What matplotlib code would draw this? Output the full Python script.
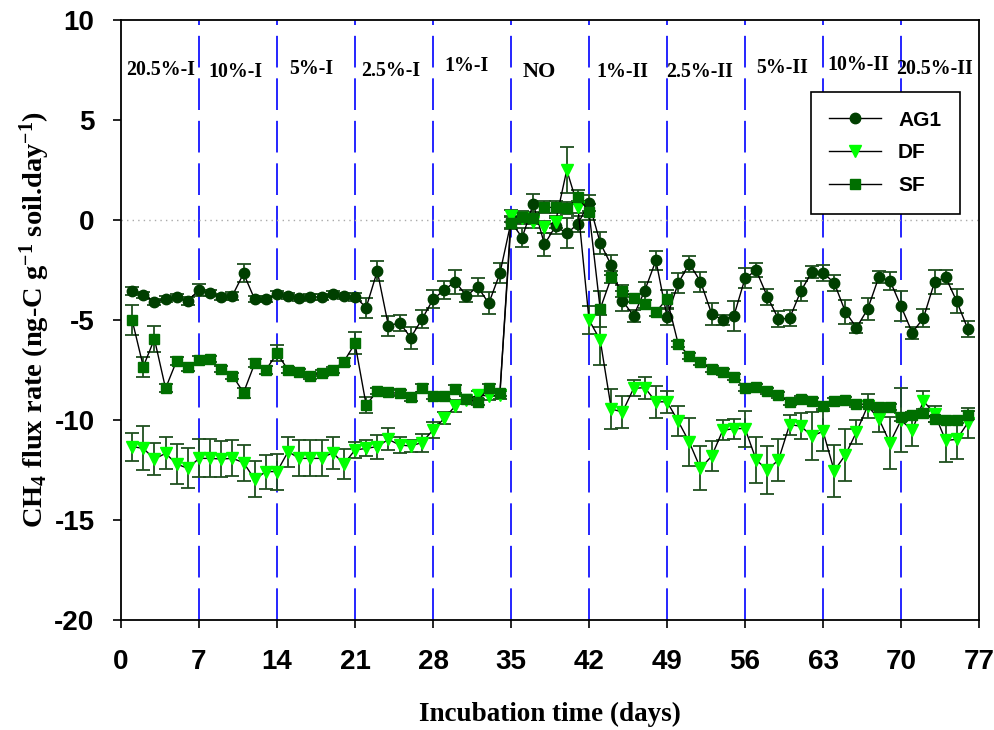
import numpy as np
import matplotlib
matplotlib.use("Agg")
import matplotlib.pyplot as plt

plt.rcParams['axes.unicode_minus'] = False
plt.rcParams['mathtext.fontset'] = 'custom'
plt.rcParams['mathtext.rm'] = 'Liberation Serif:bold'
plt.rcParams['mathtext.it'] = 'Liberation Serif:bold'
plt.rcParams['mathtext.bf'] = 'Liberation Serif:bold'

# incubation days (one sample per day)
days = np.arange(1, 77)

ag1 = [-3.55, -3.75, -4.08, -3.95, -3.83, -4.03, -3.50, -3.67, -3.83, -3.78,
       -2.67, -3.97, -3.97, -3.72, -3.78, -3.88, -3.87, -3.83, -3.72, -3.78,
       -3.83, -4.38, -2.55, -5.30, -5.13, -5.88, -4.97, -3.97, -3.50, -3.08,
       -3.80, -3.33, -4.17, -2.67, -0.10, -0.88, 0.80, -1.22, -0.30, -0.67,
       -0.20, 0.87, -1.14, -2.27, -4.04, -4.79, -3.53, -2.02, -4.84, -3.16,
       -2.18, -3.08, -4.68, -5.01, -4.79, -2.91, -2.52, -3.83, -4.96, -4.91,
       -3.56, -2.60, -2.64, -3.14, -4.59, -5.38, -4.46, -2.86, -3.03, -4.32,
       -5.63, -4.91, -3.11, -2.86, -4.07, -5.47]
ag1_err = [0.20, 0.15, 0.15, 0.15, 0.15, 0.20, 0.30, 0.15, 0.15, 0.20,
           0.45, 0.15, 0.15, 0.15, 0.15, 0.15, 0.15, 0.15, 0.15, 0.15,
           0.20, 0.50, 0.50, 0.50, 0.40, 0.55, 0.45, 0.45, 0.45, 0.60,
           0.30, 0.45, 0.55, 0.50, 0.30, 0.47, 0.50, 0.58, 0.40, 0.75,
           0.40, 0.40, 0.55, 0.50, 0.50, 0.30, 0.45, 0.47, 0.40, 0.50,
           0.40, 0.50, 0.55, 0.25, 0.75, 0.50, 0.35, 0.40, 0.40, 0.40,
           0.50, 0.30, 0.40, 0.40, 0.60, 0.25, 0.55, 0.30, 0.45, 0.75,
           0.30, 0.45, 0.60, 0.35, 0.60, 0.40]

df = [-11.33, -11.42, -11.95, -11.67, -12.20, -12.42, -11.92, -11.92, -11.95, -11.92,
      -12.13, -12.97, -12.58, -12.58, -11.58, -11.92, -11.92, -11.92, -11.63, -12.20,
      -11.50, -11.42, -11.33, -10.97, -11.25, -11.30, -11.13, -10.50, -9.92, -9.30,
      -9.00, -8.75, -8.80, -8.75, 0.20, 0.10, -0.08, -0.33, -0.08, 2.50,
      0.67, -5.00, -6.00, -9.45, -9.60, -8.42, -8.38, -9.09, -9.09, -10.06,
      -11.11, -12.42, -11.81, -10.52, -10.43, -10.43, -12.00, -12.49, -12.00, -10.23,
      -10.31, -10.80, -10.57, -12.54, -11.75, -10.60, -9.30, -9.93, -11.14, -10.01,
      -10.52, -9.05, -9.68, -11.02, -10.97, -10.13]
df_err = [0.70, 1.10, 0.80, 0.80, 1.00, 1.00, 0.95, 0.95, 0.90, 0.90,
          0.90, 0.90, 0.85, 0.90, 0.75, 0.90, 0.90, 0.90, 0.80, 0.75,
          0.40, 0.40, 0.60, 0.55, 0.40, 0.30, 0.45, 0.40, 0.30, 0.30,
          0.20, 0.20, 0.20, 0.20, 0.30, 0.30, 0.30, 0.30, 0.30, 1.15,
          0.30, 0.70, 1.25, 1.00, 0.80, 0.40, 0.55, 0.80, 0.55, 0.75,
          1.20, 1.10, 0.75, 0.50, 0.50, 0.90, 1.15, 1.20, 1.05, 0.50,
          0.65, 1.20, 1.00, 1.30, 1.30, 0.60, 0.60, 0.65, 1.30, 1.60,
          0.80, 0.50, 0.40, 1.10, 1.00, 0.75]

sf = [-5.00, -7.33, -5.95, -8.42, -7.03, -7.37, -7.00, -6.97, -7.47, -7.78,
      -8.63, -7.17, -7.50, -6.67, -7.50, -7.58, -7.80, -7.63, -7.50, -7.08,
      -6.17, -9.25, -8.55, -8.62, -8.67, -8.83, -8.40, -8.80, -8.80, -8.47,
      -8.97, -9.08, -8.38, -8.63, -0.17, 0.17, 0.08, 0.63, 0.63, 0.58,
      1.13, 0.42, -4.45, -2.87, -3.53, -3.90, -4.20, -4.59, -3.95, -6.19,
      -6.81, -7.12, -7.45, -7.62, -7.86, -8.41, -8.33, -8.55, -8.75, -9.12,
      -8.97, -9.05, -9.30, -9.05, -9.00, -9.20, -9.22, -9.34, -9.34, -9.84,
      -9.76, -9.64, -9.93, -10.01, -10.01, -9.76]
sf_err = [0.75, 0.50, 0.65, 0.20, 0.20, 0.20, 0.20, 0.15, 0.15, 0.15,
          0.25, 0.20, 0.20, 0.40, 0.15, 0.15, 0.15, 0.15, 0.15, 0.20,
          0.55, 0.40, 0.15, 0.15, 0.15, 0.20, 0.20, 0.15, 0.15, 0.20,
          0.15, 0.15, 0.20, 0.15, 0.30, 0.30, 0.30, 0.30, 0.30, 0.30,
          0.35, 0.40, 0.90, 0.30, 0.30, 0.20, 0.20, 0.20, 0.45, 0.15,
          0.15, 0.15, 0.15, 0.15, 0.15, 0.15, 0.15, 0.15, 0.15, 0.15,
          0.15, 0.15, 0.15, 0.15, 0.15, 0.15, 0.15, 0.15, 0.15, 0.20,
          0.15, 0.20, 0.15, 0.15, 0.15, 0.20]

# O2 treatment phases and where their labels sit
phase_labels = ['20.5%-I', '10%-I', '5%-I', '2.5%-I', '1%-I', 'NO',
                '1%-II', '2.5%-II', '5%-II', '10%-II', '20.5%-II']
phase_x = [3.6, 10.3, 17.1, 24.2, 31.0, 37.5, 45.0, 51.9, 59.3, 66.2, 73.0]
phase_y = [7.5, 7.4, 7.55, 7.45, 7.7, 7.4, 7.4, 7.4, 7.6, 7.75, 7.55]
phase_bounds = [7, 14, 21, 28, 35, 42, 49, 56, 63, 70]

fig = plt.figure(figsize=(9.95, 7.3), dpi=100)
ax = fig.add_axes([0.1216, 0.1507, 0.8624, 0.8219])

ebar_col = '#1f4f1f'
series = [
    ('AG1', ag1, ag1_err, 'o', '#003f00', 7.5),
    ('DF', df, df_err, 'v', '#00ff00', 9),
    ('SF', sf, sf_err, 's', '#006f00', 7.5),
]
for name, y, err, mk, col, ms in series:
    ax.errorbar(days, y, yerr=err, fmt='none', ecolor=ebar_col,
                elinewidth=1.3, capsize=5, capthick=1.3, zorder=3)
    ax.plot(days, y, color='black', lw=1.0, marker=mk, ms=ms,
            mfc=col, mec=col, label=name, zorder=4)

for b in phase_bounds:
    ax.axvline(b, color='#0000ff', lw=1.2, dashes=(19, 6.5), zorder=1)
ax.axhline(0, color='#aaaaaa', lw=1.0, ls=(0, (1, 3)), zorder=1)

for lab, x, y in zip(phase_labels, phase_x, phase_y):
    ax.text(x, y, lab, ha='center', va='center',
            family='Liberation Serif', weight='bold',
            fontsize=16 if lab == 'NO' else 14.3)

ax.set_xlim(0, 77)
ax.set_ylim(-20, 10)
ax.set_xticks(range(0, 78, 7))
ax.set_yticks(range(-20, 11, 5))
ax.tick_params(direction='out', length=6, width=1.2, labelsize=20)
for t in ax.get_xticklabels() + ax.get_yticklabels():
    t.set_family('Liberation Sans')
    t.set_weight('bold')
ax.tick_params(axis='y', pad=13)
ax.tick_params(axis='x', pad=15)
for s in ax.spines.values():
    s.set_linewidth(1.3)

ax.set_xlabel('Incubation time (days)', family='Liberation Serif',
              weight='bold', fontsize=19.5, labelpad=19)
ax.set_ylabel(r'CH$_{4}$ flux rate (ng-C g$^{-1}$ soil.day$^{-1}$)',
              family='Liberation Serif', weight='bold', fontsize=20.5, labelpad=2)

leg = ax.legend(loc='upper right', bbox_to_anchor=(960 / 995, 1 - 92 / 730),
                bbox_transform=fig.transFigure, borderaxespad=0,
                fancybox=False, edgecolor='black', framealpha=1,
                handlelength=2.5, labelspacing=0.65, borderpad=0.9,
                prop={'family': 'Liberation Sans', 'weight': 'bold', 'size': 15})
leg.get_frame().set_linewidth(1.2)

fig.savefig('out.png', dpi=100)
